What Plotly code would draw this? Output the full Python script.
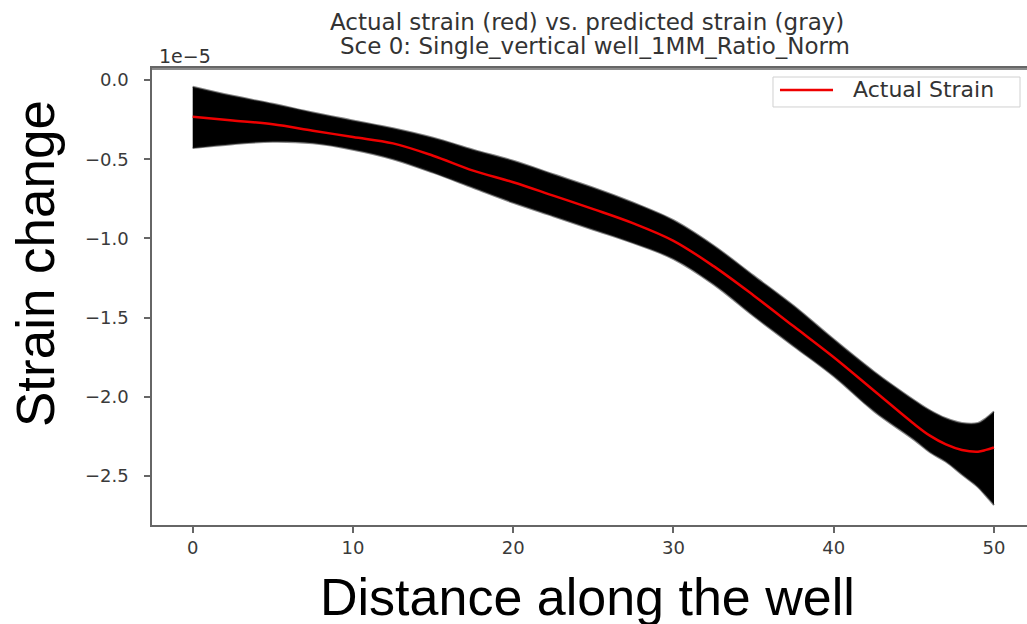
import plotly.graph_objects as go

# Distance along the well
distance = [0, 2.5, 5, 7.5, 10, 12.5, 15, 17.5, 20, 22.5, 25, 27.5, 30,
            32.5, 35, 37.5, 40, 42.5, 45, 46, 47, 48, 49, 49.5, 50]

# Actual strain (in units of 1e-5)
actual = [-0.232, -0.255, -0.28, -0.32, -0.36, -0.40, -0.478, -0.572, -0.645,
          -0.73, -0.815, -0.905, -1.015, -1.175, -1.36, -1.555, -1.75, -1.96,
          -2.17, -2.245, -2.30, -2.335, -2.346, -2.335, -2.32]

# Envelope of the predicted strain realisations (in units of 1e-5)
pred_upper = [-0.042, -0.10, -0.15, -0.205, -0.255, -0.305, -0.365, -0.44, -0.51,
              -0.595, -0.68, -0.775, -0.885, -1.045, -1.235, -1.425, -1.637, -1.84,
              -2.02, -2.085, -2.135, -2.165, -2.165, -2.135, -2.093]
pred_lower = [-0.43, -0.405, -0.39, -0.40, -0.44, -0.50, -0.585, -0.68, -0.775,
              -0.86, -0.945, -1.03, -1.13, -1.29, -1.49, -1.68, -1.87, -2.09,
              -2.27, -2.35, -2.41, -2.49, -2.57, -2.625, -2.683]

SCALE = 1e-5
x_ticks = [0, 10, 20, 30, 40, 50]
y_tick_vals = [0.0, -0.5, -1.0, -1.5, -2.0, -2.5]
y_tick_text = ["0.0", "\u22120.5", "\u22121.0", "\u22121.5", "\u22122.0", "\u22122.5"]
legend_label = "Actual Strain"

fig = go.Figure()

fig.add_trace(go.Scatter(
    x=distance, y=[v * SCALE for v in pred_lower], mode="lines",
    line=dict(color="rgba(40,40,40,0.55)", width=2, shape="spline"),
    showlegend=False, hoverinfo="skip"))
fig.add_trace(go.Scatter(
    x=distance, y=[v * SCALE for v in pred_upper], mode="lines",
    line=dict(color="rgba(40,40,40,0.55)", width=2, shape="spline"),
    fill="tonexty", fillcolor="black",
    showlegend=False, hoverinfo="skip"))
fig.add_trace(go.Scatter(
    x=distance, y=[v * SCALE for v in actual], mode="lines",
    line=dict(color="#ee0000", width=2.5, shape="spline"),
    name=legend_label, showlegend=False))

tick_font = dict(family="DejaVu Sans", size=18, color="#3a3a3a")
axis_line = dict(showline=True, linecolor="#666", linewidth=1.5,
                 ticks="outside", ticklen=6, tickwidth=1.5, tickcolor="#666",
                 showgrid=False, zeroline=False)

fig.update_layout(
    width=1027, height=624,
    margin=dict(l=152, r=0, t=68, b=99),
    paper_bgcolor="white", plot_bgcolor="white",
    xaxis=dict(range=[-2.54, 52.06], tickvals=x_ticks, tickfont=tick_font,
               mirror=True, **axis_line),
    yaxis=dict(range=[-2.809 * SCALE, 0.0758 * SCALE],
               tickvals=[v * SCALE for v in y_tick_vals], ticktext=y_tick_text,
               tickfont=tick_font, ticklabelstandoff=12, **axis_line),
    showlegend=False,
)

# top spine (drawn just inside the plot area)
fig.add_shape(type="line", xref="paper", yref="paper", x0=0, x1=1,
              y0=0.998, y1=0.998, layer="above",
              line=dict(color="#666", width=1.5))

# legend box (matplotlib style)
fig.add_shape(type="rect", xref="paper", yref="paper",
              x0=0.7097, x1=0.992, y0=0.9147, y1=0.9803,
              line=dict(color="#d0d0d0", width=1), fillcolor="rgba(255,255,255,0.8)")
fig.add_shape(type="line", xref="paper", yref="paper",
              x0=0.7177, x1=0.7783, y0=0.9519, y1=0.9519,
              line=dict(color="#ee0000", width=2.5))
fig.add_annotation(text=legend_label, xref="paper", yref="paper",
                   x=0.7985, y=0.9519, xanchor="left", yanchor="middle",
                   showarrow=False,
                   font=dict(family="DejaVu Sans", size=22, color="#333"))

fig.add_annotation(text="Actual strain (red) vs. predicted strain (gray)",
                   xref="paper", yref="paper", x=0.4977, y=1.1007,
                   xanchor="center", yanchor="middle", showarrow=False,
                   font=dict(family="DejaVu Sans", size=23, color="#333"))
fig.add_annotation(text="Sce 0: Single_vertical well_1MM_Ratio_Norm",
                   xref="paper", yref="paper", x=0.5063, y=1.0481,
                   xanchor="center", yanchor="middle", showarrow=False,
                   font=dict(family="DejaVu Sans", size=23, color="#333"))
fig.add_annotation(text="1e\u22125", xref="paper", yref="paper",
                   x=0.0377, y=1.0263, xanchor="center", yanchor="middle",
                   showarrow=False,
                   font=dict(family="DejaVu Sans", size=19, color="#333"))
fig.add_annotation(text="Strain change", xref="paper", yref="paper",
                   x=-0.1337, y=0.571, xanchor="center", yanchor="middle",
                   textangle=-90, showarrow=False,
                   font=dict(family="Liberation Sans", size=53, color="black"))
fig.add_annotation(text="Distance along the well", xref="paper", yref="paper",
                   x=0.4977, y=-0.1565, xanchor="center", yanchor="middle",
                   showarrow=False,
                   font=dict(family="Liberation Sans", size=52, color="black"))

fig.write_html("out.html")
